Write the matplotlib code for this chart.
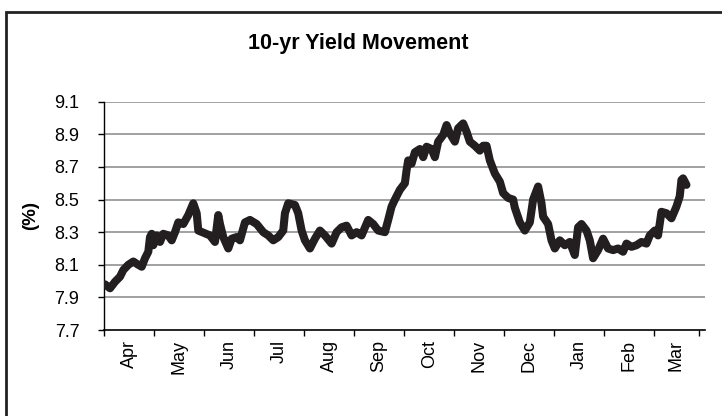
import matplotlib
matplotlib.use("Agg")
import matplotlib.pyplot as plt
from matplotlib.patches import Rectangle

plt.rcParams['font.family'] = ['Liberation Sans', 'DejaVu Sans']

# month offsets from start of April
months_elapsed = [
    0.014, 0.114, 0.214, 0.314, 0.38, 0.48, 0.58, 0.68, 0.748, 0.814,
    0.88, 0.914, 0.948, 0.98, 1.048, 1.114, 1.18, 1.28, 1.348, 1.414,
    1.48, 1.58, 1.68, 1.78, 1.848, 1.88, 1.98, 2.114, 2.214, 2.28,
    2.314, 2.38, 2.48, 2.548, 2.648, 2.714, 2.814, 2.914, 3.048, 3.18,
    3.28, 3.38, 3.48, 3.58, 3.614, 3.68, 3.814, 3.88, 3.948, 4.014,
    4.114, 4.214, 4.314, 4.414, 4.548, 4.648, 4.748, 4.848, 4.948, 5.048,
    5.148, 5.28, 5.38, 5.48, 5.614, 5.68, 5.748, 5.814, 5.914, 6.014,
    6.048, 6.08, 6.148, 6.214, 6.314, 6.38, 6.448, 6.548, 6.614, 6.68,
    6.78, 6.848, 6.914, 7.014, 7.08, 7.18, 7.248, 7.314, 7.414, 7.514,
    7.58, 7.648, 7.714, 7.814, 7.914, 7.98, 8.08, 8.18, 8.214, 8.314,
    8.414, 8.514, 8.58, 8.68, 8.748, 8.78, 8.88, 8.948, 9.014, 9.114,
    9.214, 9.314, 9.414, 9.48, 9.548, 9.648, 9.714, 9.78, 9.88, 9.98,
    10.08, 10.18, 10.28, 10.38, 10.448, 10.548, 10.648, 10.748, 10.848, 10.914,
    11.014, 11.08, 11.148, 11.248, 11.348, 11.448, 11.514, 11.548, 11.58, 11.648,
]

# 10-yr yield (%)
yields = [
    7.98, 7.956, 7.996, 8.027, 8.068, 8.10, 8.12, 8.10, 8.088, 8.14,
    8.18, 8.27, 8.29, 8.22, 8.28, 8.24, 8.29, 8.28, 8.25, 8.30,
    8.36, 8.35, 8.405, 8.477, 8.416, 8.31, 8.297, 8.28, 8.24, 8.405,
    8.35, 8.27, 8.20, 8.26, 8.27, 8.25, 8.36, 8.375, 8.35, 8.30,
    8.28, 8.25, 8.27, 8.31, 8.416, 8.477, 8.467, 8.416, 8.31, 8.25,
    8.20, 8.26, 8.31, 8.28, 8.23, 8.30, 8.33, 8.34, 8.28, 8.30,
    8.28, 8.375, 8.35, 8.31, 8.30, 8.375, 8.457, 8.50, 8.56, 8.60,
    8.68, 8.74, 8.72, 8.79, 8.81, 8.76, 8.824, 8.81, 8.76, 8.855,
    8.896, 8.957, 8.906, 8.855, 8.937, 8.967, 8.916, 8.855, 8.83, 8.80,
    8.83, 8.83, 8.74, 8.66, 8.61, 8.54, 8.51, 8.50, 8.45, 8.36,
    8.31, 8.36, 8.50, 8.58, 8.477, 8.395, 8.35, 8.25, 8.20, 8.25,
    8.22, 8.24, 8.16, 8.33, 8.35, 8.31, 8.25, 8.14, 8.19, 8.26,
    8.20, 8.19, 8.20, 8.18, 8.23, 8.21, 8.22, 8.24, 8.23, 8.28,
    8.31, 8.28, 8.425, 8.416, 8.385, 8.457, 8.52, 8.62, 8.63, 8.59,
]

month_labels = ['Apr', 'May', 'Jun', 'Jul', 'Aug', 'Sep',
                'Oct', 'Nov', 'Dec', 'Jan', 'Feb', 'Mar']
# month boundaries on the axis (last one is the partial end of March)
month_edges = [0, 1, 2, 3, 4, 5, 6, 7, 8, 9, 10, 11, 11.89]
y_ticks = [7.7, 7.9, 8.1, 8.3, 8.5, 8.7, 8.9, 9.1]

fig = plt.figure(figsize=(7.22, 4.16), dpi=100)
ax = fig.add_axes([0.1445, 0.2067, 0.8320, 0.5488])

ax.plot(months_elapsed, yields, color='#231f20', linewidth=5.8,
        solid_capstyle='round', solid_joinstyle='round', zorder=3)

ax.set_xlim(0, 12.02)
ax.set_ylim(7.7, 9.1)

# horizontal gridlines
for v in y_ticks[1:]:
    ax.axhline(v, color='#9a9a9a', linewidth=1.3, zorder=1)

ax.set_yticks(y_ticks)
ax.set_yticklabels([f'{v:.1f}' for v in y_ticks], fontsize=13)
ax.tick_params(axis='y', direction='out', length=4, width=1, pad=14)

ax.set_xticks(month_edges)
ax.set_xticklabels([])
ax.tick_params(axis='x', which='major', direction='out', length=4, width=1)

# month names centred between the boundaries
label_pos = [(month_edges[i] + month_edges[i + 1]) / 2 for i in range(12)]
ax.set_xticks(label_pos, minor=True)
ax.set_xticklabels(month_labels, minor=True, rotation=90, fontsize=13)
ax.tick_params(axis='x', which='minor', length=0, pad=7)

for side in ['top', 'right']:
    ax.spines[side].set_visible(False)
ax.spines['left'].set_linewidth(1)
ax.spines['bottom'].set_linewidth(1.2)

fig.text(0.496, 0.895, '10-yr Yield Movement', ha='center', va='center',
         fontsize=15.5, fontweight='bold')
fig.text(0.042, 0.483, '(%)', ha='center', va='center', rotation=90,
         fontsize=13.5, fontweight='bold')

# outer frame (only the left and top edges fall inside the image)
fig.patches.append(Rectangle((6 / 722, -0.1), 1.2, 1 - 12 / 416 + 0.1,
                             transform=fig.transFigure, fill=False,
                             edgecolor='#222222', linewidth=2))

fig.savefig('out.png', dpi=100)
